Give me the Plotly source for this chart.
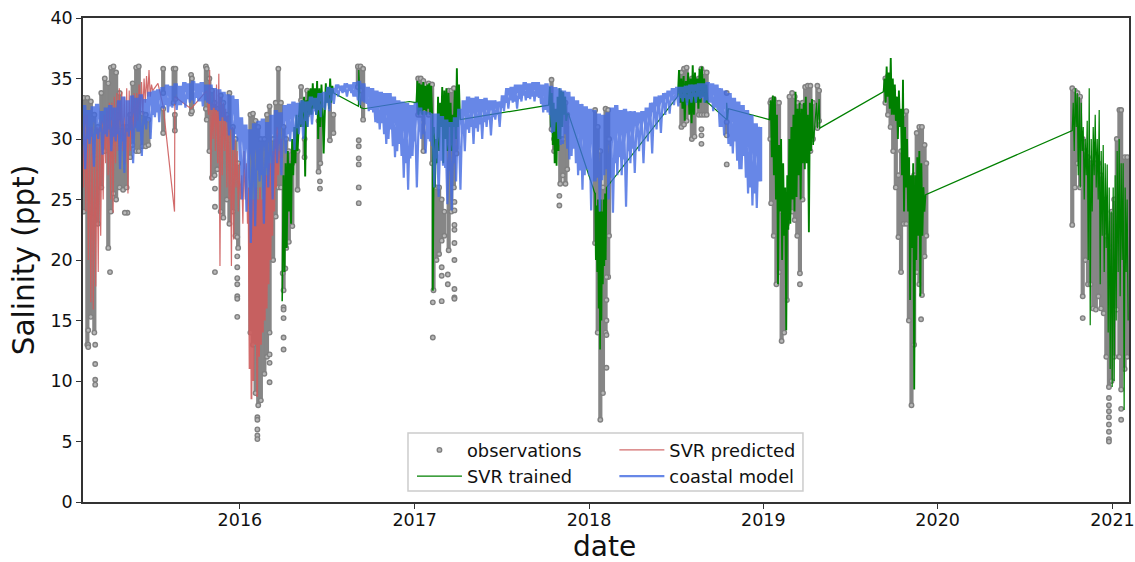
import numpy as np
import pandas as pd
import plotly.graph_objects as go

def to_date(y):
    yr = int(np.floor(y))
    start = pd.Timestamp(year=yr, month=1, day=1)
    days = (pd.Timestamp(year=yr + 1, month=1, day=1) - start).days
    return (start + pd.Timedelta(days=(y - yr) * days)).strftime("%Y-%m-%d %H:%M")

# observations: dense columns (year, top, bottom)
obs_t = [2015.105,2015.125,2015.145,2015.165,2015.185,2015.205,2015.225,2015.245,2015.26,2015.275,2015.29,2015.31,2015.33,2015.35,2015.37,2015.385,2015.405,2015.42,2015.44,2015.46,2015.475,
 2015.56,2015.56,2015.62,2015.63,2015.627,2015.72,2015.725,2015.805,2015.81,2015.825,2015.84,2015.855,2015.87,2015.89,2015.905,2015.925,2015.94,2015.96,2015.975,2015.99,
 2016.06,2016.075,2016.09,2016.105,2016.12,2016.14,2016.155,2016.17,2016.19,2016.205,2016.22,2016.235,2016.25,2016.265,2016.28,2016.3,2016.33,2016.35,2016.37,2016.385,2016.45,2016.46,2016.515,2016.535,2016.675,2016.69,2016.705,
 2017.02,2017.035,2017.05,2017.08,2017.1,2017.108,2017.125,2017.14,2017.155,2017.17,2017.195,2017.21,2017.225,2017.24,2017.785,2017.80,2017.835,2017.85,2017.865,2017.875,
 2018.035,2018.05,2018.065,2018.08,2018.095,2018.11,2018.115,2018.53,2018.545,2018.56,2018.59,2018.605,2018.63,2018.645,2018.66,2018.675,2018.79,
 2019.04,2019.045,2019.06,2019.075,2019.09,2019.105,2019.12,2019.135,2019.15,2019.165,2019.18,2019.195,2019.21,2019.225,2019.24,2019.255,2019.27,2019.285,2019.31,2019.32,
 2019.70,2019.715,2019.73,2019.745,2019.76,2019.775,2019.79,2019.805,2019.82,2019.835,2019.85,2019.865,2019.88,2019.895,2019.91,2019.925,2019.935,
 2020.77,2020.785,2020.8,2020.815,2020.83,2020.845,2020.86,2020.875,2020.89,2020.905,2020.92,2020.935,2020.95,2020.965,2020.98,2020.995,2021.01,2021.025,2021.04,2021.05,2021.07,2021.085]
obs_hi = [33.4,33.4,33.1,32,31,33.8,35,34.6,35.9,36,35.5,33.8,31,31,32,34.6,35.9,36,32.1,32,31.6,
 35.8,32.5,35.8,35.8,32,35.3,35,36,35.8,35,34,33,32.5,33.6,33,32,33.8,31,30,28,
 32,32.1,31.5,31,30,30,32,32.7,30,33,35.8,33,31,30,29,28,29,34.3,30,34,31.5,33,33.8,32,36,36,35.8,
 35,35,34.8,34.6,34.5,28,26,26,25,24,34,34,34.2,32,34.9,30,30,30,33,32,
 32.4,31,29,26,32.5,32.4,30,35.5,35.8,35.9,35,34.8,35,35.8,35.5,35.5,31.4,
 33,33.2,33.3,33,33,24,24,23,33.5,33.8,33.5,33,29,33,34.3,34.4,34.4,33,34.4,34,
 35,35.2,34,34,33,27,29,32,32.3,26,25,27,30.5,31,31,29.5,28,
 34.2,34,33.8,33.5,30,29,28.5,28,28,28,28,27,25,22,21,24,25,30,32.4,32.4,28.5,28.5]
obs_lo = [24,13,15.3,14,23,26,29,21,24,25.5,25,26,25.8,26,28.5,29.5,29,29,29.4,29.4,29.5,
 33.8,30.5,33,33.3,30.7,32.1,32.3,32.5,31.6,29,26.8,27,27.5,24,23.5,25,23,24,22,21,
 14,13,9,8,8.4,10.6,12,14,20,23.6,26,26,17.5,21,21.5,22.8,25.8,33.2,28.5,32,27.3,28,29.9,30.5,34.3,34,31.6,
 32,32,29,32,28,17.5,20,20.5,21.6,22,20.8,24,26,28.8,30.8,29,26.3,27,26.3,27.5,
 21.4,14,6.8,9,14,18.6,22,31,31.2,31.5,30,30.2,32,32,32,32,30.3,
 30,24.7,22,18,19,13.3,14,16.7,25,24,23.3,22,18.9,25,29,29,29,30,30.9,31.5,
 33,32,31,29,26,21.9,19,23,23,15,8,13,19,18,17.1,20.3,22,
 22.9,26,28,26,17,20,18,18,16,15.9,17,16,15.6,12,9.5,10,12,15.9,12,9.3,11,12]
# observations: isolated circles
out_t = [2015.13,2015.13,2015.13,2015.17,2015.17,2015.17,2015.17,2015.255,2015.355,2015.857,2015.857,2015.857,
 2015.985,2015.985,2015.985,2015.985,2015.985,2015.985,2015.985,2015.985,2016.1,2016.1,2016.1,2016.1,2016.1,
 2016.17,2016.17,2016.17,2016.25,2016.25,2016.25,2016.25,2016.25,2016.458,2016.458,
 2016.68,2016.68,2016.68,2016.68,2016.68,2016.68,2017.104,2017.104,2017.155,2017.155,2017.155,2017.19,2017.19,
 2017.228,2017.228,2017.228,2017.228,2017.228,2017.228,2017.228,2017.228,2017.228,2017.83,2017.83,
 2018.1,2018.1,2018.1,2018.1,2018.1,2018.645,2018.645,2018.645,2018.79,2018.79,2019.21,2019.905,2020.83,
 2020.98,2020.98,2020.98,2020.98,2020.98,2020.98,2020.98,2020.98,2021.05,2021.05,2015.34,2016.26,2016.245]
out_v = [14.2,13,12.8,13,11.4,10.1,9.7,19,23.9,19,24.4,25.9,
 21.9,20.3,19.4,18.5,18,17,16.8,15.3,7,6.8,6,5.5,5.2,
 12.2,11.5,9.9,16.1,15.9,15.2,13.6,12.6,26.5,25.9,
 29.9,29.4,28.4,27.9,26,24.7,16.5,13.6,19.4,18.7,16.6,18.8,18,
 24.8,24.1,22.9,22.5,21.4,20,17.6,16.9,16.8,25.3,24.5,
 18.6,16.7,15,13.8,11.1,30.8,30.3,29.6,33.8,27.9,18,15.1,15.2,
 8.6,8,7.5,7,6.4,5.8,5.2,5,7.7,6.8,23.9,19.3,18.9]

# SVR trained: stretches of values between start and end years
g_a = [16.6,27,19,28,21,29,24,28,23,30,27,31,28,32,29,32,33,31,33.2,31,33.5,26.9,33.2,31,34,32,34.2,32,34.6,32.5,34.2,32,34.8,30,34.2,31,34.5,32.5,28.8,32,34.6,33,34.3,32.5,35,33,34.4,33.8]
g_b_t = [2016.678,2016.68,2016.69,2016.71,2016.97]
g_b = [32.7,35.7,32.6,32.5,33.1]
g_c = [33,34.8,32,34.6,32.3,34.5,32,34.7,32.4,34.4,32,34.5,32.5,34.6,32,34.4,32.2]
g_d = [17.5,31,26,30,28,33.5,29,33,31,34.3,28,34,30,34.2,29,33.8,31,33,29,32,31,34,30,35.85,31,34.5,31.6]
g_e = [32.8,34.3,31,33.8,29.5,33,28,32.5,27.8,33.5,29,34.2,30,34,31,33.9,32,33.5,31.5,32,32.1]
g_f = [25.5,20,24.5,19,25,16,24,12.6,25,15,24,18,25,19.5,25.5,20,26]
g_g = [33.5,35.7,33,35,32.5,35.2,31.5,34.8,33,35.5,32,35,31.3,36.1,32,35.5,33,35,32.5,35.8,33,36,33.5,35,33,34.5,33]
g_h_t = [2018.79,2018.79,2018.795,2018.8]
g_h = [31.6,33,31.6,32.5]
g_i = [31.6,33.2,28.5,33.6,27,33.5,25,32,18,29.5,24,30,20,28,22,26,14.2,27,22.5,30,23,31,25,32,24,33.9,25.2,32.5,27,33,25,32.5,28,33,27.5,33.5,28,32,22.3,33,29,33.3,29.5]
g_j_t = [2019.305,2019.31,2019.32,2019.324]
g_j = [33,30.9,33.3,30.9]
g_k = [33.9,35,33,36,33.5,35.5,32.5,36.7,32,35,32,34.5,31.5,33.5,30,34,31,32.5,27,34.9,24,31,26,30,24,28.5,16.7,27,21,28,9.3,27,20,28.5,22,29,17,28,22,26,24,25.4]
g_l = [30.7,33,29,34.2,31,33.8,27,33.5,26,33,29,31,25,30,27,31.5,20,34.2,14.6,30,24,31,27,32,26,30,25,32.4,18,29,22,29.5,19,28,21,27.9,14,26,11,24,9.5,26,10,27,15,29,19,30,17,28,20,28,7.6,26,19,25,15]

# SVR predicted
r_a = [31,26,32,24,32,20,31,16.5,31,15.9,30,17.8,31,19,31,22,31.5,25,32,28,32.5,27,33,25,33,23.9,33.5,28,33.8,29,34.2,30,33.9,29,33.5,28,34.2,25.5,34,29,33.6,30,33.8,31,33.8,31.5,34.5,32,34.7,32,35,33,35.2,33.5,35.7,33.5,34.5,34]
r_b_t = [2015.53,2015.56,2015.625,2015.627,2015.72,2015.81]
r_b = [34.6,32.7,24,33.5,32.5,34]
r_c = [32,35.7,26.6,33,30,34,29,34.5,28,35.4,19.5,33.5,27,33,29,32.5,26,32,25,31,19.5,31,21.7,30,26,29,24,28,25,27,23,29,25,28,23,26]
r_d = [24,11,25,8.5,25,10,25,13,26,8.7,25,12,26,13,25,14,26,15,27,16,27,18,28,20,28,22,29,24,30,26,31,27,29,28.4,30,28.5]

# coastal model: peak, deep trough and common trough of each sampling step, 2015.10 to 2018.975
model_hi = [32.8,32.4,32.7,32.9,32.3,32.6,32.8,32.6,33.2,33.5,33.2,33.6,33.4,33.7,33.3,33.9,34.0,34.1,34.3,34.5,34.4,34.6,34.4,34.7,34.6,34.8,34.6,34.7,34.5,34.5,34.2,34.1,33.9,33.7,33.6,33.3,
 31.8,31.2,30.8,31.3,31.5,31.7,31.4,32,32.4,32.2,32.8,32.9,33.1,33,33.2,33.1,33.5,33.4,33.8,33.9,34.3,34.2,34.5,34.4,34.6,34.5,34.7,34.8,34.6,34.3,34.2,34,33.9,33.8,33.8,33.5,33.2,33.1,33,32.8,
 33,32.6,32.3,32.2,32.1,32.1,31.9,31.6,31.4,31.8,32.5,33.2,33.5,33.4,33.5,33.3,33.4,33.2,33.2,33.1,33.6,34.2,34.3,34.5,34.5,34.7,34.6,34.7,34.7,34.5,34.6,34.4,34.3,34.2,34,33.9,33.5,33.2,32.9,32.7,
 32.5,32.4,32.1,32,32.2,32.6,32.8,32.4,32.5,32.3,32.3,32.2,32.3,32.6,33,33.5,33.6,33.8,34,34.2,34.3,34.3,34.4,34.5,34.5,34.6,34.6,34.7,34.6,34.5,34.2,34,33.8,33.4,33.1,32.8,32.4,32,31.3,31]
model_lo = [27.5,29.6,27.7,30,28.7,30.2,29,29.8,27.5,27.2,30.2,28,30.6,28.6,30.8,30,31.8,31.4,32.5,32.2,32.6,32.4,32.8,32.6,33,32.9,33.1,32.7,33,32.4,32.4,31.5,31.5,30.3,29.1,29.8,
 25,24,21.4,22.8,26.5,23,26,25,28,27,28.8,29.8,29.1,30.4,30,31,31.2,32,31.8,32.4,32.3,32.9,33.5,33.8,33.5,33.8,33.5,32.8,33,32.3,32.2,31.3,31.3,29.6,30.8,28.5,29.6,26.8,25.8,28.6,
 26,30,28.8,29.8,26,25.2,27.8,24.6,24.1,26.5,25.8,29,30.5,29.6,30.6,30,31,30.3,31.6,31,32.3,32.5,33,32.5,33.1,33.2,33.3,33.1,33.4,32.2,32.2,30.5,31.4,29.5,30.4,28.3,29.2,27,25.8,27.5,
 24.1,26.5,24,27,25,23.9,27,27,24.4,28,27.2,29,28,29.8,28.8,30.8,30.5,32,32.1,32.8,32.7,33.1,32.8,33,33,33.3,33,33,32.3,32.4,31,31.2,29.4,29.8,27.5,28.6,25.5,24.5,24.3,26.5]
model_mid = [29.5,30,30.2,30.4,30.6,30.4,30.8,30.2,30.4,29.8,30.6,30.7,30.9,30.6,31.2,31.5,32,32.2,32.6,32.8,32.7,32.9,32.8,33,33.3,33.2,33.4,33.1,33.2,32.9,32.6,32.3,31.8,31.4,30.8,30.4,
 28.2,27.5,27,26.8,27.4,27,27.6,28.6,29.2,29.6,30.2,30.4,30.6,30.9,31.2,31.5,32,32.3,32.4,32.6,33,33.2,33.9,34,33.9,34,33.5,33.2,33.1,32.9,32.4,31.4,30.8,30.4,30,29.4,29,28.6,28,28.4,
 29.8,30.6,30.4,30,29.4,28.4,28.2,27.6,27.4,28,29.2,30.5,30.8,31,30.9,31.2,31.4,31.6,31.8,32,32.6,33,33.2,33.1,33.3,33.6,33.4,33.5,33.5,32.9,32.4,32,30.6,30,29.6,29.2,28.6,28,27.4,27,
 27,26.5,26.8,26.6,27.5,26.8,28,28.5,28.3,29,29.2,30.4,30.6,30.8,31.2,31.8,32.2,32.7,33,33.2,33.3,33.4,33.4,33.3,33.5,33.5,33.4,33.2,33,32.6,31,30.3,29.6,28.8,28.2,27.5,26.8,26,25.5,26.5]

y_ticks = [0,5,10,15,20,25,30,35,40]
x_ticks = [2016,2017,2018,2019,2020,2021]

def stretch(a, b, vals, passes=3):
    """Trace the values forward, back and forward again so a stretch reads as dense hourly data."""
    t = np.linspace(a, b, len(vals))
    if passes == 1:
        return list(t), list(vals)
    step = (b - a) / max(len(vals) - 1, 1)
    xs = list(t - step/3) + list((t)[::-1]) + list(t + step/3)
    ys = list(vals) + list(vals[::-1]) + list(vals)
    return xs, ys

g_t, g_v = [], []
for part in [(2016.243,2016.535,g_a),(g_b_t,g_b),(2017.01,2017.1,g_c),(2017.104,2017.26,g_d),
             (2017.77,2017.88,g_e),(2018.035,2018.10,g_f),(2018.51,2018.68,g_g),(g_h_t,g_h),
             (2019.037,2019.285,g_i),(g_j_t,g_j),(2019.69,2019.93,g_k),(2020.77,2021.09,g_l,1)]:
    xs, ys = stretch(*part) if len(part) >= 3 else part
    g_t += list(xs); g_v += list(ys)
r_t, r_v = [], []
for part in [(2015.095,2015.5,r_a,1),(r_b_t,r_b),(2015.82,2016.05,r_c,1),(2016.05,2016.24,r_d)]:
    xs, ys = stretch(*part) if len(part) >= 3 else part
    r_t += list(xs); r_v += list(ys)
m_t, m_v = [], []
for i, (h, l) in enumerate(zip(model_hi, model_lo)):
    m_t += [2015.10 + 0.025*i, 2015.1125 + 0.025*i]
    m_v += [h, l]
for i, (h, l) in reversed(list(enumerate(zip(model_hi, model_mid)))):
    m_t += [2015.1125 + 0.025*i, 2015.10 + 0.025*i]
    m_v += [h, l]

core_x, core_y = [], []
for t, h, l in zip(obs_t, obs_hi, obs_lo):
    core_x += [to_date(t), to_date(t), None]
    core_y += [h, l, None]

obs_x = [to_date(t) for t in obs_t]*2 + [to_date(t) for t in out_t]
obs_y = obs_hi + obs_lo + out_v

fig = go.Figure()
fig.add_trace(go.Scatter(x=core_x, y=core_y, mode="lines", showlegend=False,
                         line=dict(color="#868686", width=4.2), hoverinfo="skip"))
fig.add_trace(go.Scatter(x=obs_x, y=obs_y, mode="markers", name="observations", legend="legend",
                         marker=dict(size=4.5, color="#b8b8b8", line=dict(color="#808080", width=1.4))))
fig.add_trace(go.Scatter(x=[to_date(t) for t in r_t], y=r_v, mode="lines", name="SVR predicted", legend="legend2",
                         line=dict(color="rgba(205,92,92,0.9)", width=1.2)))
fig.add_trace(go.Scatter(x=[to_date(t) for t in g_t], y=g_v, mode="lines", name="SVR trained", legend="legend",
                         line=dict(color="#008000", width=1.2)))
fig.add_trace(go.Scatter(x=[to_date(t) for t in m_t], y=m_v, mode="lines", name="coastal model", legend="legend2",
                         line=dict(color="rgba(65,105,225,0.8)", width=2.2)))

legend_style = dict(bgcolor="rgba(0,0,0,0)", borderwidth=0, font=dict(size=17.8),
                    yanchor="top", xanchor="left", itemwidth=45, traceorder="normal")
fig.update_layout(
    width=1135, height=562, margin=dict(l=83, r=6, t=18, b=60),
    paper_bgcolor="white", plot_bgcolor="white",
    font=dict(family="DejaVu Sans", size=17.5, color="#111"),
    xaxis=dict(type="date", range=[to_date(2015.10), to_date(2021.095)], automargin=False,
               tickvals=[f"{y}-01-01" for y in x_ticks], ticktext=[str(y) for y in x_ticks],
               showgrid=False, showline=True, mirror=True, linecolor="#333", linewidth=1.5,
               ticks="outside", ticklen=5, tickcolor="#333", zeroline=False, ticklabelstandoff=-4),
    yaxis=dict(range=[0, 40], tickvals=y_ticks, showgrid=False, showline=True, mirror=True, automargin=False,
               linecolor="#333", linewidth=1.5, ticks="outside", ticklen=5, tickcolor="#333",
               zeroline=False, title=dict(text="Salinity (ppt)", font=dict(size=29.5), standoff=7)),
    legend=dict(x=0.3145, y=0.145, **legend_style),
    legend2=dict(x=0.508, y=0.145, **legend_style),
    annotations=[dict(text="date", xref="paper", yref="paper", x=0.499, y=-0.091, showarrow=False,
                      xanchor="center", yanchor="middle", font=dict(size=28))],
    shapes=[dict(type="rect", xref="paper", yref="paper", x0=0.3107, x1=0.6883, y0=0.0227, y1=0.1426,
                 fillcolor="rgba(255,255,255,0.85)", line=dict(color="#ccc", width=1.5), layer="above")],
)
fig.write_html("out.html", config=dict(displayModeBar=False),
               post_script="document.body.style.margin='0';document.documentElement.style.overflow='hidden';document.body.style.overflow='hidden';")
